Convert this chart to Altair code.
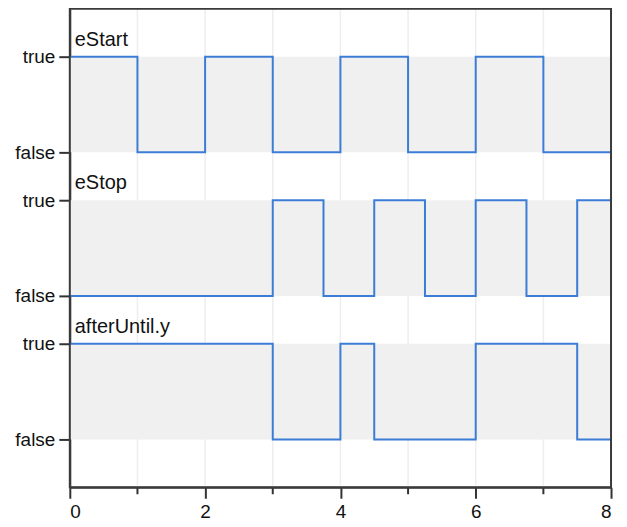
import altair as alt
import pandas as pd

# Signal names (top to bottom)
signals = ["eStart", "eStop", "afterUntil.y"]

# Step signals: change times and values (1 = true, 0 = false)
estart_t = [0, 1, 2, 3, 4, 5, 6, 7, 8]
estart_v = [1, 0, 1, 0, 1, 0, 1, 0, 0]

estop_t = [0, 3, 3.75, 4.5, 5.25, 6, 6.75, 7.5, 8]
estop_v = [0, 1, 0, 1, 0, 1, 0, 1, 1]

after_t = [0, 3, 4, 4.5, 6, 7.5, 8]
after_v = [1, 0, 1, 0, 1, 0, 0]

x_major = [0, 2, 4, 6, 8]
x_minor = [1, 3, 5, 7]
x_grid = [1, 2, 3, 4, 5, 6, 7]

# vertical layout: each panel's false level
offsets = {"eStart": 3.5, "eStop": 2.0, "afterUntil.y": 0.5}

rows = []
for name, ts, vs in [("eStart", estart_t, estart_v),
                     ("eStop", estop_t, estop_v),
                     ("afterUntil.y", after_t, after_v)]:
    for t, v in zip(ts, vs):
        rows.append({"signal": name, "t": t, "y": offsets[name] + v})
lines_df = pd.DataFrame(rows)

bands_df = pd.DataFrame({
    "signal": signals,
    "x0": [0] * 3,
    "x1": [8] * 3,
    "lo": [offsets[s] for s in signals],
    "hi": [offsets[s] + 1 for s in signals],
})

grid_df = pd.DataFrame({"t": x_grid})
minor_df = pd.DataFrame({"t": x_minor})

FONT = "Liberation Sans"
LINE = "#3b7dd6"
W, H = 543, 480

xscale = alt.Scale(domain=[0, 8], nice=False, zero=False)
yscale = alt.Scale(domain=[0, 5], nice=False, zero=False)

ytick_vals = [0.5, 1.5, 2.0, 3.0, 3.5, 4.5]

grid = alt.Chart(grid_df).mark_rule(color="#eeeeee", strokeWidth=1.5).encode(
    x=alt.X("t:Q", scale=xscale,
            axis=alt.Axis(values=x_major, format="d", title=None, grid=False,
                          tickSize=11, tickWidth=2, tickColor="#333",
                          labelFontSize=19, labelFont=FONT, labelColor="#111",
                          labelPadding=4, domainColor="#3a3a3a", domainWidth=2)),
)

bands = alt.Chart(bands_df).mark_rect(color="#f0f0f0").encode(
    x=alt.X("x0:Q", scale=xscale),
    x2="x1:Q",
    y=alt.Y("lo:Q", scale=yscale,
            axis=alt.Axis(values=ytick_vals, title=None, grid=False,
                          labelExpr="(datum.value == 1.5 || datum.value == 3 || datum.value == 4.5) ? 'true' : 'false'",
                          tickSize=11, tickWidth=2, tickColor="#333",
                          labelFontSize=19, labelFont=FONT, labelColor="#111",
                          labelPadding=4, domainColor="#3a3a3a", domainWidth=2)),
    y2="hi:Q",
)

lines = alt.Chart(lines_df).mark_line(interpolate="step-after", color=LINE, strokeWidth=2).encode(
    x=alt.X("t:Q", scale=xscale),
    y=alt.Y("y:Q", scale=yscale),
    detail="signal:N",
)

labels = alt.Chart(bands_df).mark_text(
    align="left", baseline="alphabetic", dx=5, dy=-11,
    font=FONT, fontSize=20, color="#111",
).encode(
    x=alt.X("x0:Q", scale=xscale),
    y=alt.Y("hi:Q", scale=yscale),
    text="signal:N",
)

minor = alt.Chart(minor_df).mark_rule(color="#333", strokeWidth=2, clip=False).encode(
    x=alt.X("t:Q", scale=xscale),
    y=alt.value(H),
    y2=alt.value(H + 7),
)

frame = alt.Chart(pd.DataFrame({"k": [0]})).mark_rect(
    fill=None, filled=False, stroke="#3a3a3a", strokeWidth=2, clip=False
).encode(
    x=alt.value(0), x2=alt.value(W), y=alt.value(0), y2=alt.value(H),
)

chart = alt.layer(grid, bands, lines, labels, minor, frame).properties(
    width=W,
    height=H,
    autosize=alt.AutoSizeParams(type="none"),
    padding={"left": 62, "top": 0, "right": 8, "bottom": 35},
).configure_view(stroke=None)

chart.save("out.html", embed_options={"renderer": "svg", "actions": False})
